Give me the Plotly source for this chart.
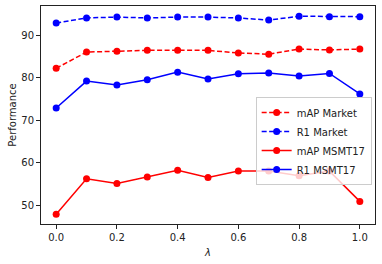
import plotly.graph_objects as go

lam = [0.0, 0.1, 0.2, 0.3, 0.4, 0.5, 0.6, 0.7, 0.8, 0.9, 1.0]
map_market = [82.2, 86.0, 86.2, 86.4, 86.4, 86.4, 85.8, 85.5, 86.7, 86.5, 86.7]
r1_market = [92.8, 94.0, 94.2, 94.0, 94.2, 94.2, 94.0, 93.5, 94.4, 94.3, 94.3]
map_msmt = [48.0, 56.3, 55.2, 56.7, 58.3, 56.6, 58.1, 58.1, 57.0, 58.1, 51.0]
r1_msmt = [72.9, 79.2, 78.3, 79.5, 81.3, 79.7, 80.9, 81.1, 80.4, 81.0, 76.2]

series = [
    ("mAP Market", map_market, "#ff0000", "dash"),
    ("R1 Market", r1_market, "#0000ff", "dash"),
    ("mAP MSMT17", map_msmt, "#ff0000", "solid"),
    ("R1 MSMT17", r1_msmt, "#0000ff", "solid"),
]

fig = go.Figure()
for name, vals, col, dash in series:
    fig.add_trace(go.Scatter(
        x=lam, y=vals, name=name, mode="lines+markers",
        line=dict(color=col, width=1.5, dash="5px,2.5px" if dash == "dash" else "solid"),
        marker=dict(color=col, size=7),
    ))

axis_common = dict(
    showgrid=False, zeroline=False, showline=True, linecolor="#222", linewidth=1,
    mirror=True, ticks="outside", ticklen=4, tickcolor="#222", automargin=False,
    tickfont=dict(family="DejaVu Sans", size=10, color="#222"),
)
fig.update_layout(
    width=382, height=264,
    margin=dict(l=41, r=7, t=6, b=40),
    plot_bgcolor="white", paper_bgcolor="white",
    font=dict(family="DejaVu Sans", size=10, color="#222"),
    xaxis=dict(range=[-0.05, 1.05], tickvals=[0, 0.2, 0.4, 0.6, 0.8, 1.0],
               ticktext=["0.0", "0.2", "0.4", "0.6", "0.8", "1.0"],
               title=dict(text="<i>λ</i>", standoff=6, font=dict(size=10)), **axis_common),
    yaxis=dict(range=[45.7, 96.8], tickvals=[50, 60, 70, 80, 90],
               title=dict(text="Performance", standoff=2, font=dict(size=10)), **axis_common),
    legend=dict(x=0.99, y=0.582, xanchor="right", yanchor="top",
                bgcolor="rgba(255,255,255,0.8)", bordercolor="#ccc", borderwidth=1,
                font=dict(size=10), tracegroupgap=0, itemwidth=30),
    showlegend=True,
)
fig.write_html("out.html", config={"displayModeBar": False},
               post_script="document.body.style.margin='0';document.body.style.overflow='hidden';")
